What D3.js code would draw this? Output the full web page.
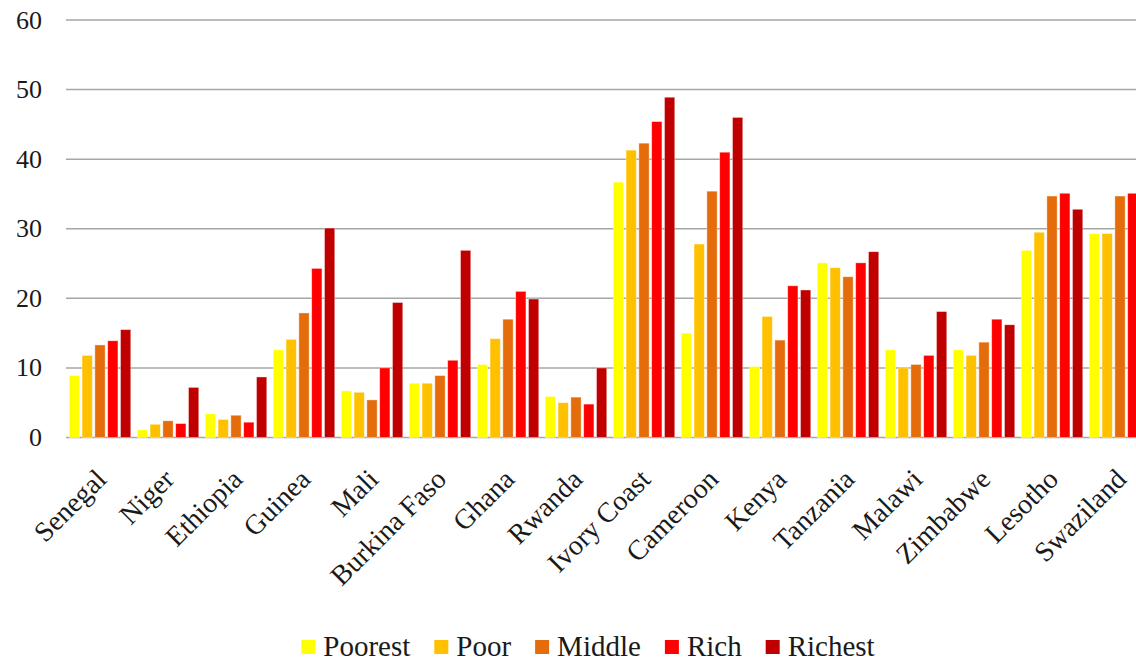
<!DOCTYPE html>
<html>
<head>
<meta charset="utf-8">
<script src="https://cdnjs.cloudflare.com/ajax/libs/d3/7.8.5/d3.min.js"></script>
<style>
	body { margin: 0; background: #fff; overflow: hidden; }
	svg text { font-family: "Liberation Serif", "DejaVu Serif", serif; fill: #1a1a1a; }
</style>
</head>
<body>
<div id="chart"></div>
<script>
var countries = ["Senegal", "Niger", "Ethiopia", "Guinea", "Mali", "Burkina Faso", "Ghana", "Rwanda",
	"Ivory Coast", "Cameroon", "Kenya", "Tanzania", "Malawi", "Zimbabwe", "Lesotho", "Swaziland"];
var series = ["Poorest", "Poor", "Middle", "Rich", "Richest"];
var colors = ["#ffff00", "#ffc000", "#e46c0a", "#ff0000", "#c00000"];

var poorest = [8.9, 1.1, 3.4, 12.6, 6.7, 7.8, 10.5, 5.9, 36.7, 15.0, 10.2, 25.1, 12.6, 12.6, 26.9, 29.3];
var poor    = [11.8, 1.9, 2.6, 14.1, 6.5, 7.8, 14.2, 5.0, 41.3, 27.8, 17.4, 24.4, 10.0, 11.8, 29.5, 29.3];
var middle  = [13.3, 2.4, 3.2, 17.9, 5.4, 8.9, 17.0, 5.8, 42.3, 35.4, 14.0, 23.1, 10.5, 13.7, 34.7, 34.7];
var rich    = [13.9, 2.0, 2.2, 24.3, 10.0, 11.1, 21.0, 4.8, 45.4, 41.0, 21.8, 25.1, 11.8, 17.0, 35.1, 35.1];
var richest = [15.5, 7.2, 8.7, 30.1, 19.4, 26.9, 19.9, 10.0, 48.9, 46.0, 21.2, 26.7, 18.1, 16.2, 32.8, 35.0];

var yTicks = [0, 10, 20, 30, 40, 50, 60];

var width = 1136;
var height = 662;
var left = 66;
var step = 68;
var font = "'Liberation Serif', 'DejaVu Serif', serif";

var values = [poorest, poor, middle, rich, richest];

// one row per country, value per series
var rows = countries.map(function(c, i) {
	return series.map(function(s, j) {
		return { country: c, series: s, value: values[j][i], color: colors[j] };
	});
});

var svg = d3.select("#chart")
	.append("svg")
	.attr("width", width)
	.attr("height", height)
	.style("font-family", font);

var x0 = d3.scaleBand()
	.domain(countries)
	.range([left, left + step * countries.length])
	.paddingInner(0.095)
	.paddingOuter(0.0475);

var x1 = d3.scaleBand()
	.domain(series)
	.range([0, x0.bandwidth()])
	.paddingInner(0.2);

var yScale = d3.scaleLinear()
	.domain([0, 60])
	.range([437.5, 20]);

// gridlines
svg.append("g")
	.selectAll("line")
	.data(yTicks)
	.enter()
	.append("line")
	.attr("x1", left)
	.attr("x2", width)
	.attr("y1", function(d) { return yScale(d); })
	.attr("y2", function(d) { return yScale(d); })
	.attr("stroke", "#a6a6a6")
	.attr("stroke-width", 1.5);

// y labels
svg.append("g")
	.selectAll("text")
	.data(yTicks)
	.enter()
	.append("text")
	.attr("x", 42)
	.attr("y", function(d) { return yScale(d); })
	.attr("dy", "0.33em")
	.attr("text-anchor", "end")
	.style("font-family", font)
	.style("font-size", "26px")
	.text(function(d) { return d; });

// bars
var groups = svg.append("g")
	.selectAll("g")
	.data(rows)
	.enter()
	.append("g")
	.attr("transform", function(d) { return "translate(" + x0(d[0].country) + ",0)"; });

groups.selectAll("rect")
	.data(function(d) { return d; })
	.enter()
	.append("rect")
	.attr("x", function(d) { return x1(d.series); })
	.attr("y", function(d) { return yScale(d.value); })
	.attr("width", x1.bandwidth())
	.attr("height", function(d) { return yScale(0) - yScale(d.value); })
	.attr("fill", function(d) { return d.color; })
	.attr("stroke", "#fff")
	.attr("stroke-opacity", 0.5)
	.attr("stroke-width", 0.75);

// country labels
svg.append("g")
	.selectAll("text")
	.data(countries)
	.enter()
	.append("text")
	.attr("transform", function(d) {
		return "translate(" + (x0(d) + x0.bandwidth() / 2 + 1) + ",474) rotate(-45)";
	})
	.attr("dy", "0.35em")
	.attr("text-anchor", "end")
	.style("font-family", font)
	.style("font-size", "28px")
	.text(function(d) { return d; });

// legend
var legend = svg.append("g");
var lx = 0;
series.forEach(function(s, i) {
	var item = legend.append("g").attr("transform", "translate(" + lx + ",0)");
	item.append("rect")
		.attr("x", 0)
		.attr("y", 640)
		.attr("width", 14)
		.attr("height", 14)
		.attr("fill", colors[i]);
	var t = item.append("text")
		.attr("x", 22)
		.attr("y", 656)
		.style("font-family", font)
		.style("font-size", "29px")
		.text(s);
	lx += 22 + t.node().getComputedTextLength() + 24;
});
lx -= 24;
legend.attr("transform", "translate(" + (588 - lx / 2) + ",0)");
</script>
</body>
</html>
